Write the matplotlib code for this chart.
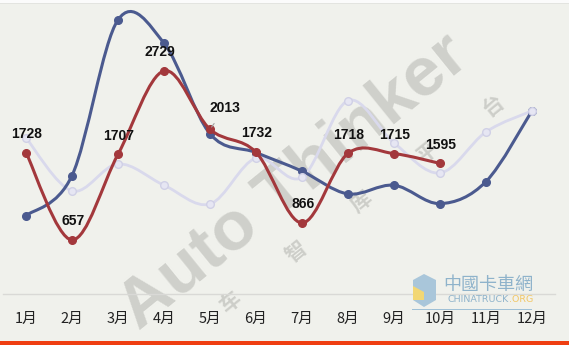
import matplotlib
matplotlib.use("Agg")
import matplotlib.pyplot as plt
from matplotlib.path import Path
from matplotlib.patches import PathPatch, Rectangle, Polygon

months = ['1月', '2月', '3月', '4月', '5月', '6月', '7月', '8月', '9月', '10月', '11月', '12月']
red_vals = [1728, 657, 1707, 2729, 2013, 1732, 866, 1718, 1715, 1595]
navy_vals = [955, 1446, 3354, 3068, 1958, 1728, 1500, 1221, 1328, 1102, 1372, 2239]
light_vals = [1908, 1258, 1589, 1328, 1098, 1660, 1425, 2365, 1846, 1478, 1981, 2239]

bg = '#f0f1ec'
navy = '#4b5a8f'
red = '#a3383c'
light = '#d9d9ec'


def smooth_path(xs, ys):
    # excel-like smoothed line: cubic bezier, catmull-rom control points
    n = len(xs)
    verts = [(xs[0], ys[0])]
    codes = [Path.MOVETO]
    for i in range(n - 1):
        a = i - 1 if i > 0 else i
        d = i + 2 if i + 2 < n else i + 1
        c1 = (xs[i] + (xs[i + 1] - xs[a]) / 6, ys[i] + (ys[i + 1] - ys[a]) / 6)
        c2 = (xs[i + 1] - (xs[d] - xs[i]) / 6, ys[i + 1] - (ys[d] - ys[i]) / 6)
        verts += [c1, c2, (xs[i + 1], ys[i + 1])]
        codes += [Path.CURVE4] * 3
    return Path(verts, codes)


def fx(px):
    return px / 569


def fy(py):
    return 1 - py / 345


fig = plt.figure(figsize=(5.69, 3.45), dpi=100, facecolor=bg)
ax = fig.add_axes([0.0053, 0.149, 0.970, 0.828])
ax.patch.set_visible(False)
ax.set_zorder(1)

# watermark (behind the axes)
fig.text(fx(294), fy(182), 'Auto Thinker', fontsize=50, fontweight='bold', family='Liberation Sans',
         color='#cfd0cb', rotation=39, ha='center', va='center', zorder=0)
wm_chars = ['车', '智', '库', '平', '台']
wm_xy = [(231, 302), (296, 252), (361, 202), (428, 152), (493, 106)]
for ch, (px, py) in zip(wm_chars, wm_xy):
    fig.text(fx(px), fy(py), ch, fontsize=15, fontweight='bold', family='Noto Sans CJK SC',
             color='#cdcec9', rotation=39, ha='center', va='center', zorder=0)

x_all = list(range(1, 13))
x_red = x_all[:len(red_vals)]

for xs, ys, col, lw, z in [(x_all, light_vals, light, 2.0, 2),
                           (x_all, navy_vals, navy, 2.2, 3),
                           (x_red, red_vals, red, 2.2, 4)]:
    ax.add_patch(PathPatch(smooth_path(xs, ys), fill=False, edgecolor=col, lw=lw,
                           capstyle='round', zorder=z))

ax.plot(x_all, navy_vals, 'o', ls='none', ms=5.5, color=navy, zorder=3)
ax.plot(x_all, light_vals, 'o', ls='none', ms=5.5, mfc='#e6e6f3', mec='#d0d0e6', mew=1, zorder=3.5)
ax.plot(x_red, red_vals, 'o', ls='none', ms=5.5, color=red, zorder=4)

for x, v in zip(x_red, red_vals):
    if v == 2013:
        ax.annotate(str(v), xy=(x, v), xytext=(x + 0.33, v + 260), ha='center', va='center',
                    fontsize=10, fontweight='bold', family='Liberation Sans', color='#111111',
                    arrowprops=dict(arrowstyle='-', color='#a0a0a0', lw=0.8, shrinkA=5, shrinkB=2),
                    zorder=6)
        continue
    dx = -0.08 if v == 2729 else 0.02
    ax.text(x + dx, v + 230, str(v), ha='center', va='center', fontsize=10, fontweight='bold',
            family='Liberation Sans', color='#111111', zorder=6)

ax.set_xlim(0.5, 12.5)
ax.set_ylim(0, 3500)
ax.set_xticks(x_all)
ax.set_xticklabels(months, fontsize=10.5, family=['Noto Sans CJK SC', 'DejaVu Sans'], color='#222222')
ax.tick_params(axis='x', length=0, pad=13)
ax.set_yticks([])
for s in ['top', 'left', 'right']:
    ax.spines[s].set_visible(False)
ax.spines['bottom'].set_color('#d9d9d6')
ax.spines['bottom'].set_linewidth(1)

# logo (bottom right)
fig.patches.append(Polygon([(fx(424), fy(274)), (fx(436), fy(280)), (fx(436), fy(300)),
                            (fx(424), fy(307)), (fx(413), fy(300)), (fx(413), fy(280))],
                           closed=True, transform=fig.transFigure,
                           facecolor='#a9c6da', edgecolor='none', zorder=5))
fig.patches.append(Polygon([(fx(413), fy(286)), (fx(424), fy(292)), (fx(424), fy(300)),
                            (fx(413), fy(300))],
                           closed=True, transform=fig.transFigure,
                           facecolor='#f2d774', edgecolor='none', zorder=6))
fig.text(fx(488), fy(285), '中國卡車網', fontsize=13, family='Noto Sans CJK TC',
         color='#8fb3cb', ha='center', va='center', zorder=6)
fig.text(fx(447), fy(300), 'CHINATRUCK', fontsize=6.8, family='DejaVu Sans',
         color='#8fb3cb', ha='left', va='center', zorder=6)
fig.text(fx(533), fy(300), '.ORG', fontsize=6.8, family='DejaVu Sans',
         color='#f2c766', ha='right', va='center', zorder=6)
fig.patches.append(Rectangle((fx(412), fy(310)), 120 / 569, 1 / 345, transform=fig.transFigure,
                             facecolor='#9fc0d6', edgecolor='none', zorder=5))

# top strip and bottom bar
fig.patches.append(Rectangle((0, fy(3)), 1, 3 / 345, transform=fig.transFigure,
                             facecolor='#fbfbfb', edgecolor='none'))
fig.patches.append(Rectangle((0, fy(4)), 1, 1 / 345, transform=fig.transFigure,
                             facecolor='#e3e4e0', edgecolor='none'))
fig.patches.append(Rectangle((0, 0), 1, 4.5 / 345, transform=fig.transFigure,
                             facecolor='#ef3e12', edgecolor='none'))

fig.savefig('out.png', dpi=100, facecolor=bg)
